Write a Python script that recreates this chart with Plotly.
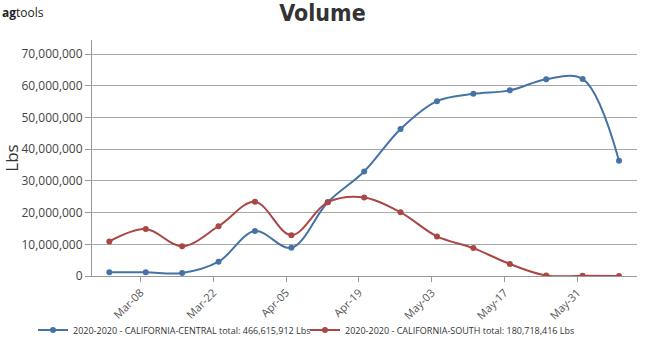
import plotly.graph_objects as go

dates = ["2020-03-02", "2020-03-09", "2020-03-16", "2020-03-23", "2020-03-30",
         "2020-04-06", "2020-04-13", "2020-04-20", "2020-04-27", "2020-05-04",
         "2020-05-11", "2020-05-18", "2020-05-25", "2020-06-01", "2020-06-08"]
central = [1.2e6, 1.2e6, 0.95e6, 4.5e6, 14.2e6, 8.9e6, 23.3e6, 33.0e6, 46.4e6,
           55.2e6, 57.5e6, 58.6e6, 62.1e6, 62.2e6, 36.4e6]
south = [10.9e6, 14.8e6, 9.4e6, 15.7e6, 23.4e6, 12.9e6, 23.3e6, 24.8e6, 20.1e6,
         12.5e6, 8.8e6, 3.8e6, 0.15e6, 0.05e6, 0.02e6]
names = ["2020-2020 - CALIFORNIA-CENTRAL total: 466,615,912 Lbs",
         "2020-2020 - CALIFORNIA-SOUTH total: 180,718,416 Lbs"]
colors = ["#4572A7", "#AA4643"]
legends = ["legend", "legend2"]
tick_dates = ["2020-03-08", "2020-03-22", "2020-04-05", "2020-04-19",
              "2020-05-03", "2020-05-17", "2020-05-31"]
tick_labels = ["Mar-08", "Mar-22", "Apr-05", "Apr-19", "May-03", "May-17", "May-31"]
y_ticks = [0, 10e6, 20e6, 30e6, 40e6, 50e6, 60e6, 70e6]
y_labels = ["0", "10,000,000", "20,000,000", "30,000,000", "40,000,000",
            "50,000,000", "60,000,000", "70,000,000"]

fig = go.Figure()
for name, vals, c, lg in zip(names, [central, south], colors, legends):
    fig.add_trace(go.Scatter(
        x=dates, y=vals, name=name, mode="lines+markers", legend=lg,
        line=dict(color=c, width=2, shape="spline", smoothing=1.0),
        marker=dict(color=c, size=6),
    ))

leg_common = dict(orientation="h", xref="container", yref="container",
                  xanchor="left", y=1 - 330/338, yanchor="middle",
                  font=dict(size=9, color="#333"), itemwidth=30,
                  borderwidth=0, bgcolor="rgba(0,0,0,0)")

fig.update_layout(
    width=645, height=338,
    margin=dict(l=92, r=8, t=40, b=62, autoexpand=False),
    paper_bgcolor="white", plot_bgcolor="white",
    font=dict(family="Open Sans, sans-serif", color="#333"),
    title=dict(text="Volume", x=0.5, xanchor="center", y=0.985, yanchor="top",
               font=dict(family="DejaVu Sans Condensed, DejaVu Sans, sans-serif",
                         size=23, color="#333", weight="bold")),
    showlegend=True,
    legend=dict(x=33/645, **leg_common),
    legend2=dict(x=305/645, **leg_common),
    xaxis=dict(
        range=["2020-02-27 16:00", "2020-06-11 11:00"],
        tickmode="array", tickvals=tick_dates, ticktext=tick_labels,
        tickangle=-45, tickfont=dict(size=11, color="#555"),
        showgrid=False, showline=True, linecolor="#999", linewidth=1,
        ticks="outside", ticklen=5, tickcolor="#999", zeroline=False,
    ),
    yaxis=dict(
        range=[0, 74.5e6],
        tickmode="array", tickvals=y_ticks, ticktext=y_labels,
        tickfont=dict(size=12, color="#444"),
        showgrid=True, gridcolor="#a8a8a8", gridwidth=1,
        showline=True, linecolor="#999", linewidth=1,
        ticks="outside", ticklen=6, tickcolor="#999", zeroline=False,
        title=dict(text="Lbs", font=dict(size=17, color="#333"), standoff=6),
    ),
)

fig.add_annotation(
    text="<b>ag</b>tools", xref="paper", yref="paper",
    x=-92/545, y=1 + 38/236, xanchor="left", yanchor="top",
    showarrow=False, font=dict(size=12, color="#222", family="Open Sans, sans-serif"),
)

fig.write_html("out.html")
